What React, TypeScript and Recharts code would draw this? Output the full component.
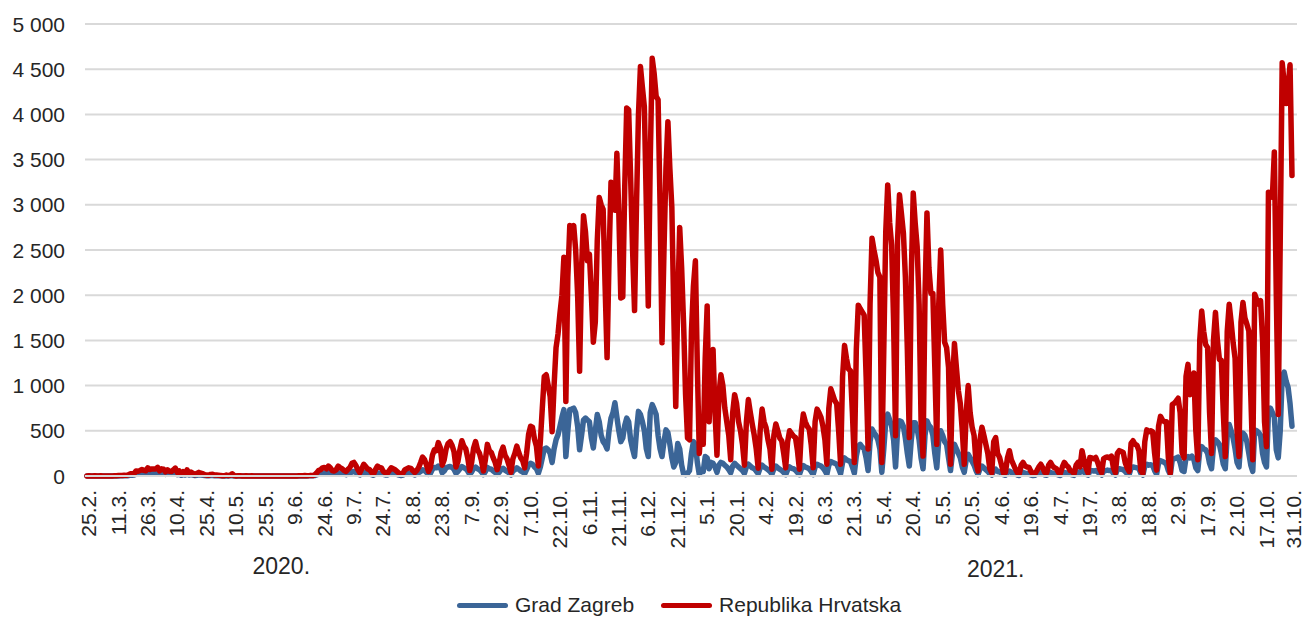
import React from "react";
import { LineChart, Line, XAxis, YAxis, CartesianGrid, Legend } from "recharts";

const FONT = "'Liberation Sans', Arial, sans-serif";
const TEXT = "#262626";

// x tick labels (every 15 days + last day)
const tickLabels = [
  "25.2.", "11.3.", "26.3.", "10.4.", "25.4.", "10.5.", "25.5.", "9.6.", "24.6.", "9.7.",
  "24.7.", "8.8.", "23.8.", "7.9.", "22.9.", "7.10.", "22.10.", "6.11.", "21.11.", "6.12.",
  "21.12.", "5.1.", "20.1.", "4.2.", "19.2.", "6.3.", "21.3.", "5.4.", "20.4.", "5.5.",
  "20.5.", "4.6.", "19.6.", "4.7.", "19.7.", "3.8.", "18.8.", "2.9.", "17.9.", "2.10.",
  "17.10.", "31.10.",
];
const tickDays = [
  0, 15, 30, 45, 60, 75, 90, 105, 120, 135,
  150, 165, 180, 195, 210, 225, 240, 255, 270, 285,
  300, 315, 330, 345, 360, 375, 390, 405, 420, 435,
  450, 465, 480, 495, 510, 525, 540, 555, 570, 585,
  600, 614,
];
const yearLabels = ["2020.", "2021."];
const yearDays = [99, 463];
const yTicks = [0, 500, 1000, 1500, 2000, 2500, 3000, 3500, 4000, 4500, 5000];

// Daily new cases, one row per week (Tue..Mon), starting Tue 25.2.2020
const zagrebWeeks = [
  [0, 0, 0, 0, 0, 0, 0], [0, 0, 0, 0, 0, 0, 0], [0, 1, 1, 2, 2, 3, 2], [4, 8, 8, 10, 20, 18, 22],
  [25, 20, 22, 35, 28, 30, 25], [30, 38, 22, 30, 28, 18, 25], [20, 18, 25, 30, 15, 20, 8], [15, 10, 20, 12, 15, 10, 5],
  [8, 12, 10, 8, 5, 4, 3], [5, 6, 4, 3, 2, 2, 1], [1, 3, 1, 2, 3, 1, 0], [1, 1, 0, 0, 1, 0, 0],
  [0, 1, 0, 0, 0, 0, 0], [0, 0, 0, 1, 0, 0, 0], [0, 0, 0, 0, 1, 0, 0], [0, 1, 0, 1, 2, 1, 2],
  [1, 2, 3, 2, 5, 12, 20], [25, 30, 32, 28, 35, 30, 20], [18, 25, 35, 30, 28, 20, 15], [25, 30, 45, 50, 40, 25, 12],
  [28, 42, 35, 28, 25, 15, 8], [22, 35, 30, 28, 18, 12, 10], [20, 30, 28, 22, 18, 10, 6], [10, 22, 28, 30, 28, 20, 12],
  [22, 35, 50, 70, 60, 40, 18], [30, 75, 95, 90, 110, 95, 35], [55, 90, 100, 105, 95, 75, 30], [50, 80, 105, 90, 80, 55, 18],
  [45, 85, 100, 80, 70, 45, 15], [50, 95, 80, 75, 55, 40, 18], [40, 70, 85, 65, 50, 35, 12], [55, 70, 90, 75, 55, 45, 25],
  [70, 120, 140, 130, 100, 80, 30], [100, 200, 300, 310, 290, 250, 150], [300, 400, 455, 550, 650, 735, 215], [500, 735, 740, 750, 700, 550, 290],
  [450, 620, 640, 620, 600, 420, 310], [500, 680, 600, 450, 380, 350, 300], [500, 640, 700, 810, 650, 500, 380], [420, 560, 640, 600, 400, 300, 215],
  [500, 715, 680, 600, 500, 300, 215], [700, 790, 740, 680, 450, 300, 215], [380, 510, 480, 350, 200, 100, 150], [360, 300, 120, 20, 15, 30, 60],
  [250, 380, 350, 150, 15, 60, 50], [215, 200, 80, 150, 140, 100, 40], [120, 150, 140, 120, 100, 70, 35], [110, 140, 120, 100, 80, 60, 30],
  [100, 130, 110, 90, 80, 55, 25], [90, 120, 100, 85, 70, 50, 20], [80, 110, 90, 75, 60, 40, 15], [70, 100, 85, 80, 65, 40, 15],
  [80, 115, 100, 90, 80, 50, 15], [100, 130, 120, 110, 90, 60, 20], [120, 160, 150, 140, 130, 80, 25], [150, 200, 180, 170, 160, 100, 30],
  [220, 330, 350, 320, 300, 200, 60], [380, 520, 480, 450, 400, 300, 40], [300, 600, 685, 620, 550, 400, 100], [500, 610, 600, 550, 420, 250, 110],
  [400, 590, 590, 520, 400, 200, 80], [450, 610, 560, 535, 450, 250, 90], [400, 500, 450, 380, 350, 200, 60], [250, 350, 300, 250, 200, 100, 40],
  [180, 240, 200, 160, 120, 60, 15], [80, 110, 90, 70, 50, 25, 10], [60, 75, 50, 45, 30, 15, 8], [40, 55, 40, 30, 25, 10, 5],
  [30, 40, 30, 25, 20, 10, 5], [8, 20, 30, 35, 25, 10, 8], [30, 40, 30, 25, 20, 10, 6], [25, 40, 35, 30, 20, 12, 6],
  [35, 45, 40, 60, 45, 20, 10], [50, 60, 55, 60, 45, 25, 10], [55, 60, 65, 60, 60, 30, 10], [70, 80, 75, 70, 50, 25, 15],
  [90, 100, 95, 90, 80, 30, 10], [110, 130, 120, 125, 115, 60, 20], [140, 170, 160, 150, 130, 60, 15], [180, 190, 200, 210, 150, 60, 50],
  [200, 215, 200, 220, 180, 90, 60], [280, 325, 300, 290, 250, 140, 80], [330, 400, 380, 350, 250, 130, 80], [450, 570, 500, 420, 300, 150, 100],
  [400, 475, 450, 380, 250, 120, 50], [510, 500, 480, 450, 250, 150, 100], [700, 750, 700, 650, 290, 200, 500], [1100, 1150, 1050, 980, 800, 550],
];

const hrvatskaWeeks = [
  [1, 2, 0, 0, 3, 0, 1], [2, 0, 1, 0, 0, 0, 1], [2, 3, 5, 6, 5, 9, 7], [12, 24, 24, 26, 56, 52, 61],
  [71, 62, 57, 91, 71, 78, 77], [77, 96, 57, 79, 75, 46, 68], [53, 50, 67, 87, 40, 57, 21], [48, 30, 67, 35, 43, 30, 15],
  [28, 40, 30, 25, 14, 12, 9], [18, 20, 11, 10, 8, 6, 2], [3, 11, 4, 8, 24, 4, 1], [2, 3, 0, 1, 2, 0, 1],
  [2, 1, 1, 1, 0, 0, 0], [1, 0, 0, 1, 0, 0, 0], [0, 1, 0, 0, 1, 0, 0], [1, 1, 0, 2, 4, 3, 5],
  [3, 4, 7, 5, 12, 34, 60], [70, 90, 95, 80, 110, 90, 60], [55, 70, 110, 90, 80, 60, 50], [75, 95, 140, 150, 116, 70, 35],
  [80, 130, 104, 78, 70, 40, 20], [70, 110, 95, 90, 50, 35, 30], [60, 90, 80, 70, 50, 30, 20], [30, 70, 80, 90, 85, 60, 40],
  [60, 95, 150, 210, 180, 120, 50], [95, 230, 290, 280, 370, 315, 120], [180, 300, 360, 380, 340, 270, 100], [160, 290, 390, 330, 300, 200, 60],
  [150, 310, 380, 290, 250, 170, 55], [180, 350, 280, 260, 200, 150, 70], [140, 260, 320, 230, 190, 120, 40], [190, 250, 330, 260, 200, 170, 90],
  [250, 460, 550, 540, 410, 330, 110], [380, 750, 1100, 1120, 1000, 880, 490], [1000, 1420, 1570, 1800, 2000, 2420, 825], [2200, 2770, 2700, 2770, 2500, 2000, 1160],
  [2300, 2880, 2700, 2380, 2455, 2000, 1480], [1700, 2600, 3080, 3000, 2950, 2100, 1310], [2400, 3250, 3100, 2940, 3570, 2900, 1970], [1980, 3200, 4070, 4050, 3300, 2500, 1830],
  [3000, 4000, 4530, 4300, 4085, 3000, 1880], [3500, 4620, 4450, 4200, 4160, 3000, 1475], [2500, 3400, 3920, 3400, 2975, 1800, 770], [1900, 2750, 2300, 1680, 900, 420, 400],
  [1600, 2100, 2380, 1200, 250, 570, 350], [1300, 1880, 600, 1200, 1400, 700, 230], [900, 1120, 1000, 750, 600, 450, 180], [700, 900, 800, 600, 500, 350, 120],
  [600, 845, 700, 570, 450, 300, 85], [500, 740, 600, 535, 400, 300, 75], [450, 575, 500, 420, 390, 250, 90], [380, 500, 470, 440, 425, 280, 75],
  [500, 685, 600, 550, 520, 350, 90], [600, 740, 700, 650, 550, 400, 130], [750, 965, 900, 835, 800, 500, 130], [1100, 1445, 1300, 1185, 1165, 700, 150],
  [1400, 1890, 1850, 1815, 1780, 1100, 300], [1900, 2630, 2500, 2390, 2250, 2200, 150], [1400, 2700, 3220, 2800, 2555, 1700, 445], [2600, 3110, 2900, 2685, 2200, 1400, 425],
  [2200, 3130, 2800, 2535, 1900, 600, 220], [2000, 2910, 2300, 2020, 2020, 1200, 350], [1900, 2500, 1900, 1480, 1420, 1200, 130], [1000, 1465, 1200, 945, 800, 500, 130],
  [700, 1000, 700, 540, 450, 150, 55], [400, 540, 450, 350, 250, 80, 35], [380, 425, 250, 205, 120, 30, 40], [200, 280, 180, 130, 80, 40, 20],
  [120, 150, 110, 100, 95, 50, 20], [25, 60, 100, 130, 90, 40, 35], [120, 150, 110, 90, 80, 40, 30], [100, 150, 120, 100, 60, 50, 25],
  [120, 150, 100, 280, 180, 90, 35], [205, 200, 190, 205, 150, 80, 35], [190, 205, 210, 200, 220, 90, 35], [250, 280, 270, 260, 150, 90, 50],
  [360, 390, 350, 340, 280, 60, 30], [380, 510, 490, 500, 490, 250, 65], [550, 660, 620, 600, 600, 200, 30], [790, 805, 830, 860, 700, 260, 200],
  [1100, 1235, 900, 1000, 1140, 500, 180], [1500, 1825, 1600, 1455, 1420, 700, 250], [1500, 1810, 1500, 1290, 1280, 700, 215], [1600, 1900, 1700, 1475, 1300, 500, 215],
  [1700, 1920, 1750, 1680, 1605, 900, 180], [2010, 1950, 1900, 1940, 1500, 600, 325], [3140, 3100, 3085, 3585, 2000, 680, 2600], [4570, 4350, 4120, 4300, 4550, 3325],
];

const seriesNames = ["Grad Zagreb", "Republika Hrvatska"];
const seriesColors = ["#3B6597", "#C00000"];

const zagreb = zagrebWeeks.flat();
const hrvatska = hrvatskaWeeks.flat();
const data = zagreb.map((v, i) => ({ day: i, zg: v, hr: hrvatska[i] }));

const fmt = (v: number) =>
  v >= 1000 ? `${Math.floor(v / 1000)} ${String(v % 1000).padStart(3, "0")}` : String(v);

const XTick = (props: any) => {
  const { x, payload } = props;
  const idx = tickDays.indexOf(payload.value);
  return (
    <text
      transform={`translate(${x + 1.5},490) rotate(-90)`}
      textAnchor="end"
      dy="0.36em"
      fontSize={21}
      fill={TEXT}
      fontFamily={FONT}
    >
      {tickLabels[idx]}
    </text>
  );
};

const YearTick = (props: any) => {
  const { x, payload } = props;
  const idx = yearDays.indexOf(payload.value);
  return (
    <text x={x} y={idx === 0 ? 574 : 577} textAnchor="middle" fontSize={23} fill={TEXT} fontFamily={FONT}>
      {yearLabels[idx]}
    </text>
  );
};

const YTick = (props: any) => {
  const { y, payload } = props;
  return (
    <text x={65} y={y} dy="0.36em" textAnchor="end" fontSize={21} fill={TEXT} fontFamily={FONT}>
      {fmt(payload.value)}
    </text>
  );
};

const LegendContent = (props: any) => {
  const payload = props.payload || [];
  return (
    <div
      style={{
        display: "flex",
        alignItems: "center",
        height: 40,
        paddingTop: 12,
        paddingLeft: 457,
        boxSizing: "border-box",
        fontFamily: FONT,
        fontSize: 21,
        color: TEXT,
      }}
    >
      {payload.map((p: any, i: number) => (
        <div key={i} style={{ display: "flex", alignItems: "center", marginRight: 27 }}>
          <span
            style={{
              display: "inline-block",
              width: 51,
              height: 5,
              borderRadius: 3,
              background: p.color,
              marginRight: 7,
            }}
          />
          <span>{p.value}</span>
        </div>
      ))}
    </div>
  );
};

export default function App() {
  return (
    <div style={{ position: "absolute", left: 0, top: 0, width: 1304, height: 619, background: "#fff" }}>
      <LineChart width={1304} height={619} data={data} margin={{ top: 24, right: 7, left: 0, bottom: 0 }}>
        <CartesianGrid vertical={false} stroke="#d9d9d9" strokeWidth={2} />
        <XAxis
          dataKey="day"
          type="number"
          domain={[0, 614]}
          ticks={tickDays}
          interval={0}
          tick={<XTick />}
          tickLine={false}
          axisLine={{ stroke: "#d9d9d9", strokeWidth: 2 }}
          height={102}
          padding={{ left: 2, right: 5 }}
        />
        <XAxis
          xAxisId="yr"
          dataKey="day"
          type="number"
          domain={[0, 614]}
          allowDataOverflow
          ticks={yearDays}
          interval={0}
          tick={<YearTick />}
          tickLine={false}
          axisLine={false}
          height={1}
          padding={{ left: 2, right: 5 }}
        />
        <YAxis
          type="number"
          domain={[0, 5000]}
          ticks={yTicks}
          interval={0}
          tick={<YTick />}
          tickLine={false}
          axisLine={false}
          width={85}
        />
        <Legend verticalAlign="bottom" height={40} content={<LegendContent />} />
        <Line
          type="linear"
          dataKey="zg"
          name={seriesNames[0]}
          stroke={seriesColors[0]}
          strokeWidth={5.5}
          dot={false}
          activeDot={false}
          strokeLinejoin="round"
          strokeLinecap="round"
          isAnimationActive={false}
        />
        <Line
          type="linear"
          dataKey="hr"
          name={seriesNames[1]}
          stroke={seriesColors[1]}
          strokeWidth={5.5}
          dot={false}
          activeDot={false}
          strokeLinejoin="round"
          strokeLinecap="round"
          isAnimationActive={false}
        />
      </LineChart>
    </div>
  );
}
